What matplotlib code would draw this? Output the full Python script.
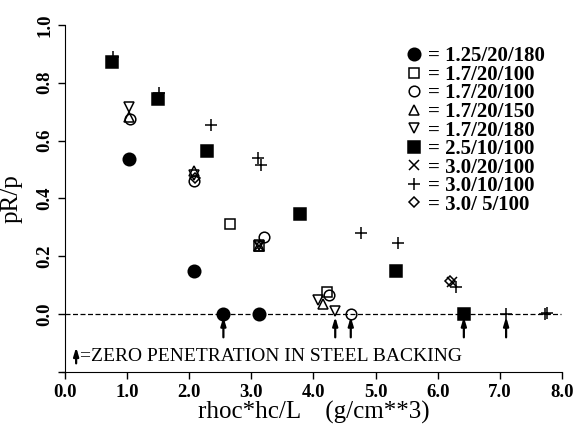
import numpy as np
import matplotlib
matplotlib.use('Agg')
import matplotlib.pyplot as plt
from matplotlib.lines import Line2D

plt.rcParams['font.family'] = ['Liberation Serif', 'DejaVu Serif']

# series: (x, y) pairs
labels = ['= 1.25/20/180', '= 1.7/20/100', '= 1.7/20/100', '= 1.7/20/150',
          '= 1.7/20/180', '= 2.5/10/100', '= 3.0/20/100', '= 3.0/10/100',
          '= 3.0/ 5/100']
markers = ['o', 's', 'o', '^', 'v', 's', 'x', '+', 'D']
filled = [True, False, False, False, False, True, False, False, False]

x_circ_f = [1.03, 2.07, 2.55, 3.13]
y_circ_f = [0.535, 0.15, 0.0, 0.0]
x_sq_o = [2.66, 3.13, 4.22]
y_sq_o = [0.31, 0.235, 0.075]
x_circ_o = [1.05, 2.08, 3.2, 4.25, 4.6]
y_circ_o = [0.675, 0.46, 0.265, 0.065, 0.0]
x_tri_up = [1.03, 2.07, 3.13, 4.15]
y_tri_up = [0.68, 0.495, 0.235, 0.035]
x_tri_dn = [1.03, 2.07, 3.13, 4.08, 4.35]
y_tri_dn = [0.715, 0.48, 0.24, 0.05, 0.01]
x_sq_f = [0.75, 1.5, 2.28, 3.78, 5.32, 6.42]
y_sq_f = [0.87, 0.745, 0.565, 0.345, 0.148, 0.0]
x_cross = [3.13, 6.23]
y_cross = [0.235, 0.11]
x_plus = [0.77, 1.52, 2.35, 3.1, 3.15, 4.77, 5.36, 6.3, 7.1, 7.72, 7.76]
y_plus = [0.89, 0.765, 0.655, 0.54, 0.515, 0.28, 0.245, 0.095, 0.0, 0.0, 0.005]
x_diam = [2.1, 6.2]
y_diam = [0.47, 0.115]

xs = [x_circ_f, x_sq_o, x_circ_o, x_tri_up, x_tri_dn, x_sq_f, x_cross, x_plus, x_diam]
ys = [y_circ_f, y_sq_o, y_circ_o, y_tri_up, y_tri_dn, y_sq_f, y_cross, y_plus, y_diam]

# zero penetration arrows
x_arrow = [2.55, 4.35, 4.6, 6.42, 7.1]

fig = plt.figure(figsize=(5.8, 4.28), dpi=100)
ax = fig.add_axes([0.112, 0.131, 0.857, 0.811])

ax.axhline(0, xmin=0, xmax=7.98 / 8, color='k', lw=0.9, ls=(0, (4, 2)))

sizes = {'o': 9, 's': 8.5, '^': 7, 'v': 7, 'x': 7, '+': 9, 'D': 5}
handles = []
for x, y, m, f, lab in zip(xs, ys, markers, filled, labels):
    ms = sizes[m] if f else sizes[m] * (0.85 if m in 'os' else 1)
    kw = dict(marker=m, ls='none', ms=ms, mew=1.1, color='k',
              mfc='k' if f else 'none', mec='k')
    ax.plot(x, y, **kw)
    handles.append(Line2D([], [], **kw))

for xa in x_arrow:
    ax.annotate('', xy=(xa, 0.0), xytext=(xa, -0.09),
                arrowprops=dict(arrowstyle='-|>,head_length=0.5,head_width=0.15',
                                color='k', lw=1.6))

ax.annotate('', xy=(0.18, -0.105), xytext=(0.18, -0.18),
            arrowprops=dict(arrowstyle='-|>,head_length=0.5,head_width=0.15',
                            color='k', lw=1.6))
ax.text(0.24, -0.148, '=ZERO PENETRATION IN STEEL BACKING',
        fontsize=14, ha='left', va='center')

leg = ax.legend(handles, labels, loc='upper left', bbox_to_anchor=(0.668, 0.962),
                frameon=False, handlelength=0.8, handletextpad=0.3,
                labelspacing=-0.07, borderaxespad=0,
                prop={'size': 15, 'weight': 'bold'})

ax.set_xlim(0, 8)
ax.set_ylim(-0.2, 1.0)
ax.spines['top'].set_visible(False)
ax.spines['right'].set_visible(False)
ax.spines['left'].set_bounds(-0.2, 1.0)
ax.spines['bottom'].set_bounds(-0.05, 8)
ax.set_xticks(np.arange(0, 8.1, 1.0))
ax.set_xticklabels([f'{v:.1f}' for v in np.arange(0, 8.1, 1.0)],
                   fontsize=13.5, fontweight='bold')
ax.set_yticks(np.arange(-0.2, 1.01, 0.2))
ax.set_yticklabels([''] + [f'{v:.1f}' for v in np.arange(0, 1.01, 0.2)],
                   fontsize=13.5, fontweight='bold', rotation=90, va='center')
ax.tick_params(direction='out', length=5, width=1)

ax.set_xlabel('rhoc*hc/L    (g/cm**3)', fontsize=18, labelpad=0)
ax.set_ylabel('pR/p', fontsize=18)
ax.yaxis.set_label_coords(-0.085, 0.5)

fig.savefig('out.png', dpi=100)
